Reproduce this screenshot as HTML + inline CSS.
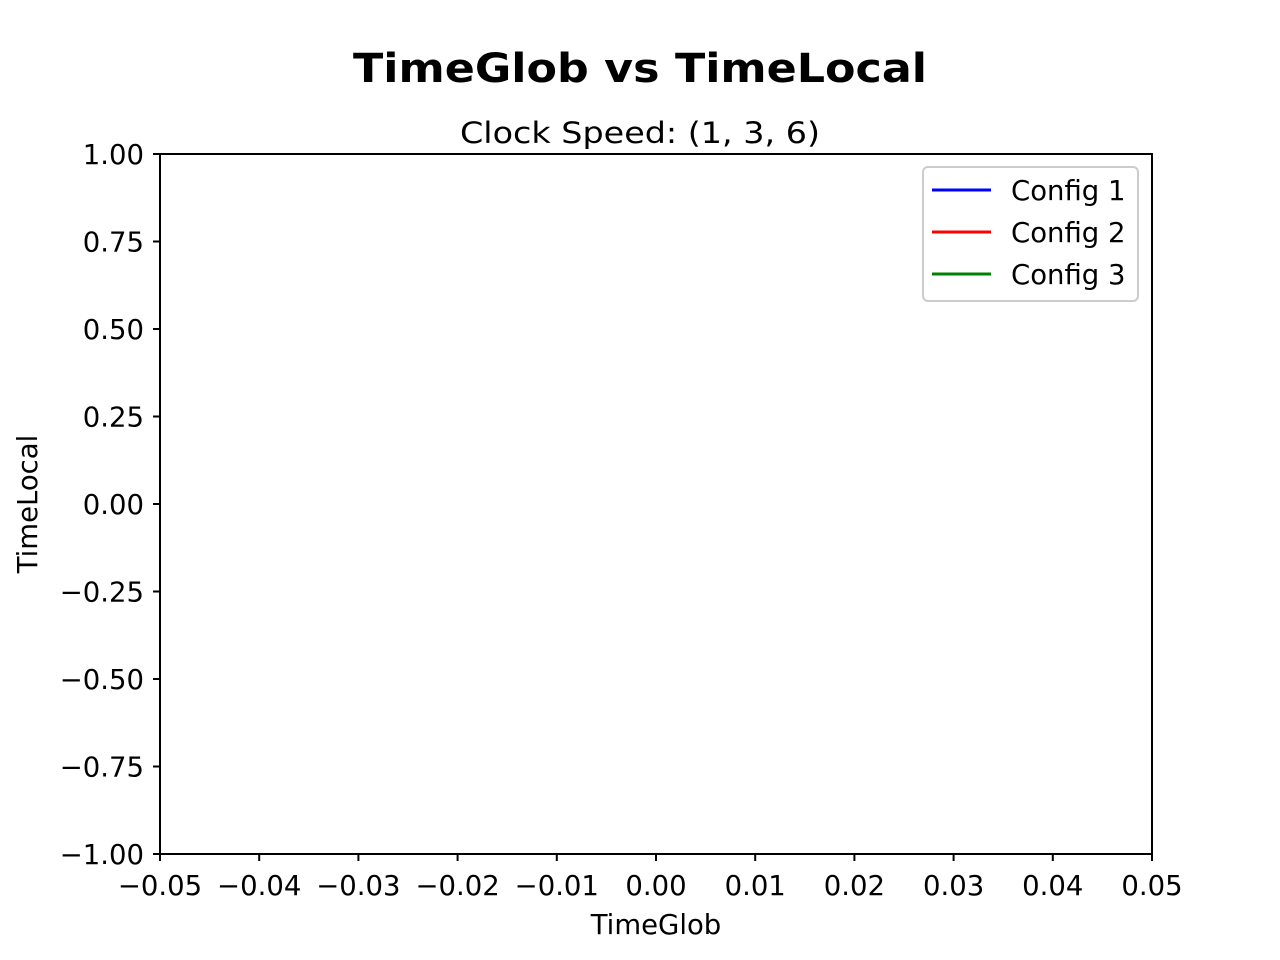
<!DOCTYPE html>
<html><head><meta charset="utf-8"><style>
html,body{margin:0;padding:0;background:#fff;}
svg{display:block;font-family:"DejaVu Sans","Liberation Sans",sans-serif;}
</style></head><body>
<svg id="chart" width="1280" height="960" viewBox="0 0 1280 960">
<rect width="1280" height="960" fill="#fff"/>
<text x="640" y="82" text-anchor="middle" font-size="40" font-weight="bold" textLength="574" lengthAdjust="spacingAndGlyphs">TimeGlob vs TimeLocal</text>
<text x="640" y="143" text-anchor="middle" font-size="29" textLength="360" lengthAdjust="spacingAndGlyphs">Clock Speed: (1, 3, 6)</text>
<g id="marks"></g>
<rect x="160" y="154" width="992" height="700" fill="none" stroke="#000" stroke-width="2"/>
<g id="xticks"></g><g id="yticks"></g>
<text x="656" y="934" text-anchor="middle" font-size="27.5">TimeGlob</text>
<text transform="translate(37,504) rotate(-90)" text-anchor="middle" font-size="27.5">TimeLocal</text>
<g>
<rect x="923" y="167" width="215" height="134" rx="5" fill="#fff" fill-opacity="0.8" stroke="#ccc" stroke-width="2"/>
<g id="legend-items"></g>
</g>
</svg>
<script>
const xTicks=[-0.05,-0.04,-0.03,-0.02,-0.01,0.00,0.01,0.02,0.03,0.04,0.05];
const yTicks=[1.00,0.75,0.50,0.25,0.00,-0.25,-0.50,-0.75,-1.00];
const seriesNames=["Config 1","Config 2","Config 3"];
const seriesColors=["#0000ff","#ff0000","#008000"];
const config1X=[];const config1Y=[];
const config2X=[];const config2Y=[];
const config3X=[];const config3Y=[];
const NS="http://www.w3.org/2000/svg";
const xMin=-0.05,xMax=0.05,yMin=-1,yMax=1;
const L=160,R=1152,T=154,B=854;
function sx(v){return L+(v-xMin)/(xMax-xMin)*(R-L);}
function sy(v){return B-(v-yMin)/(yMax-yMin)*(B-T);}
function fmt(v){const s=Math.abs(v).toFixed(2);return (v<-1e-9?"\u2212":"")+s;}
const xg=document.getElementById('xticks');
xTicks.forEach(v=>{
 const x=sx(v);
 const l=document.createElementNS(NS,'line');
 l.setAttribute('x1',x);l.setAttribute('x2',x);l.setAttribute('y1',B);l.setAttribute('y2',B+7);
 l.setAttribute('stroke','#000');l.setAttribute('stroke-width','2');
 
 
 xg.appendChild(l);
 const t=document.createElementNS(NS,'text');
 t.setAttribute('x',x);t.setAttribute('y',B+41);t.setAttribute('text-anchor','middle');t.setAttribute('font-size','27.5');
 t.textContent=fmt(v);
 
 
 xg.appendChild(t);
});
const yg=document.getElementById('yticks');
yTicks.forEach(v=>{
 const y=sy(v);
 const l=document.createElementNS(NS,'line');
 l.setAttribute('x1',L-7);l.setAttribute('x2',L);l.setAttribute('y1',y);l.setAttribute('y2',y);
 l.setAttribute('stroke','#000');l.setAttribute('stroke-width','2');
 
 
 yg.appendChild(l);
 const t=document.createElementNS(NS,'text');
 t.setAttribute('x',L-16);t.setAttribute('y',y+10);t.setAttribute('text-anchor','end');t.setAttribute('font-size','27.5');
 t.textContent=fmt(v);
 
 
 yg.appendChild(t);
});
const data=[[config1X,config1Y],[config2X,config2Y],[config3X,config3Y]];
const mg=document.getElementById('marks');
data.forEach((d,i)=>{
 if(!d[0].length)return;
 const p=document.createElementNS(NS,'polyline');
 p.setAttribute('points',d[0].map((x,j)=>sx(x)+','+sy(d[1][j])).join(' '));
 p.setAttribute('fill','none');p.setAttribute('stroke',seriesColors[i]);p.setAttribute('stroke-width','3');
 
 
 mg.appendChild(p);
});
const lg=document.getElementById('legend-items');
seriesNames.forEach((n,i)=>{
 const y=190+i*42;
 const l=document.createElementNS(NS,'line');
 l.setAttribute('x1',932);l.setAttribute('x2',991);l.setAttribute('y1',y);l.setAttribute('y2',y);
 l.setAttribute('stroke',seriesColors[i]);l.setAttribute('stroke-width','3');
 
 
 lg.appendChild(l);
 const t=document.createElementNS(NS,'text');
 t.setAttribute('x',1011);t.setAttribute('y',y+10);t.setAttribute('font-size','27.5');
 t.textContent=n;
 
 
 lg.appendChild(t);
});
</script>
</body></html>
